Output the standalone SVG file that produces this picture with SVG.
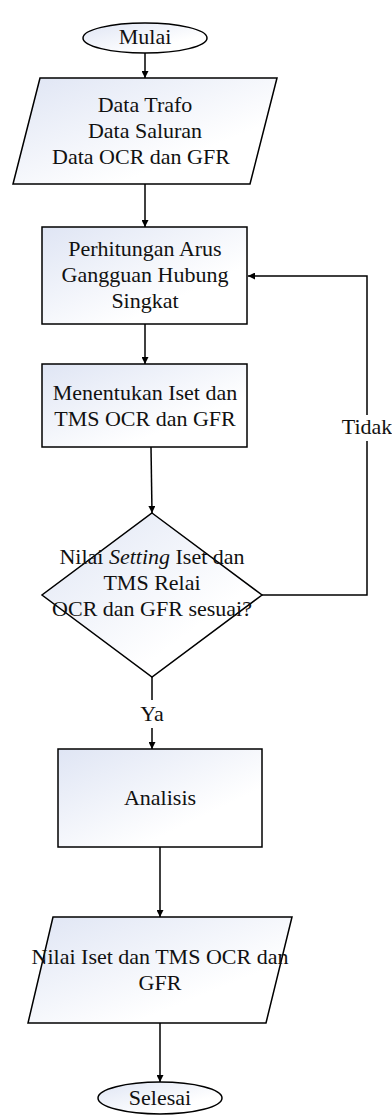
<svg xmlns="http://www.w3.org/2000/svg" width="392" height="1120" viewBox="0 0 392 1120">
<style>
.shape{stroke:#000;stroke-width:1.5;fill:url(#g)}
.t{font-family:"Liberation Serif","Times New Roman",serif;font-size:22px;fill:#111;text-anchor:middle}
.c{fill:none;stroke:#000;stroke-width:1.5}
</style>
<defs>
<linearGradient id="g" x1="0" y1="0" x2="0.7" y2="0.7">
<stop offset="0" stop-color="#dfe5f4"/>
<stop offset="1" stop-color="#ffffff"/>
</linearGradient>
<marker id="a" viewBox="0 0 10 10" refX="10" refY="5" markerWidth="7" markerHeight="7" orient="auto" markerUnits="userSpaceOnUse">
<path d="M0,0 L10,5 L0,10 z" fill="#000"/>
</marker>
</defs>
<rect width="392" height="1120" fill="#fff"/>
<g id="connectors">
<path class="c" d="M145,53 V78" marker-end="url(#a)"/>
<path class="c" d="M145,184 V227" marker-end="url(#a)"/>
<path class="c" d="M145,324 V364" marker-end="url(#a)"/>
<path class="c" d="M151,447 L152,513" marker-end="url(#a)"/>
<path class="c" d="M262,595 H367 V441 M367,415 V276 H248" marker-end="url(#a)"/>
<path class="c" d="M152,677 V700"/>
<path class="c" d="M152,728 V749" marker-end="url(#a)"/>
<path class="c" d="M160,847 V917" marker-end="url(#a)"/>
<path class="c" d="M160,1023 V1082" marker-end="url(#a)"/>
<text class="t" x="367" y="434">Tidak</text>
<text class="t" x="152" y="721">Ya</text>
</g>
<g id="mulai">
<ellipse class="shape" cx="145" cy="38" rx="62" ry="15"/>
<text class="t" x="145" y="44">Mulai</text>
</g>
<g id="input-data">
<polygon class="shape" points="40,78 277,78 250,184 13,184"/>
<text class="t" x="145" y="112">Data Trafo</text>
<text class="t" x="145" y="138">Data Saluran</text>
<text class="t" x="141" y="164">Data OCR dan GFR</text>
</g>
<g id="perhitungan">
<rect class="shape" x="42" y="227" width="205" height="97"/>
<text class="t" x="145" y="256">Perhitungan Arus</text>
<text class="t" x="145" y="282">Gangguan Hubung</text>
<text class="t" x="145" y="308">Singkat</text>
</g>
<g id="menentukan">
<rect class="shape" x="42" y="364" width="205" height="83"/>
<text class="t" x="145" y="400">Menentukan Iset dan</text>
<text class="t" x="145" y="426">TMS OCR dan GFR</text>
</g>
<g id="keputusan">
<polygon class="shape" points="152,513 262,595 152,677 42,595"/>
<text class="t" x="152" y="564">Nilai <tspan font-style="italic">Setting</tspan> Iset dan</text>
<text class="t" x="152" y="590">TMS Relai</text>
<text class="t" x="152" y="616">OCR dan GFR sesuai?</text>
</g>
<g id="analisis">
<rect class="shape" x="58" y="749" width="204" height="98"/>
<text class="t" x="160" y="805">Analisis</text>
</g>
<g id="output">
<polygon class="shape" points="53,917 292,917 266,1023 28,1023"/>
<text class="t" x="160" y="964">Nilai Iset dan TMS OCR dan</text>
<text class="t" x="160" y="990">GFR</text>
</g>
<g id="selesai">
<ellipse class="shape" cx="160" cy="1098" rx="62" ry="16"/>
<text class="t" x="160" y="1105">Selesai</text>
</g>
</svg>
